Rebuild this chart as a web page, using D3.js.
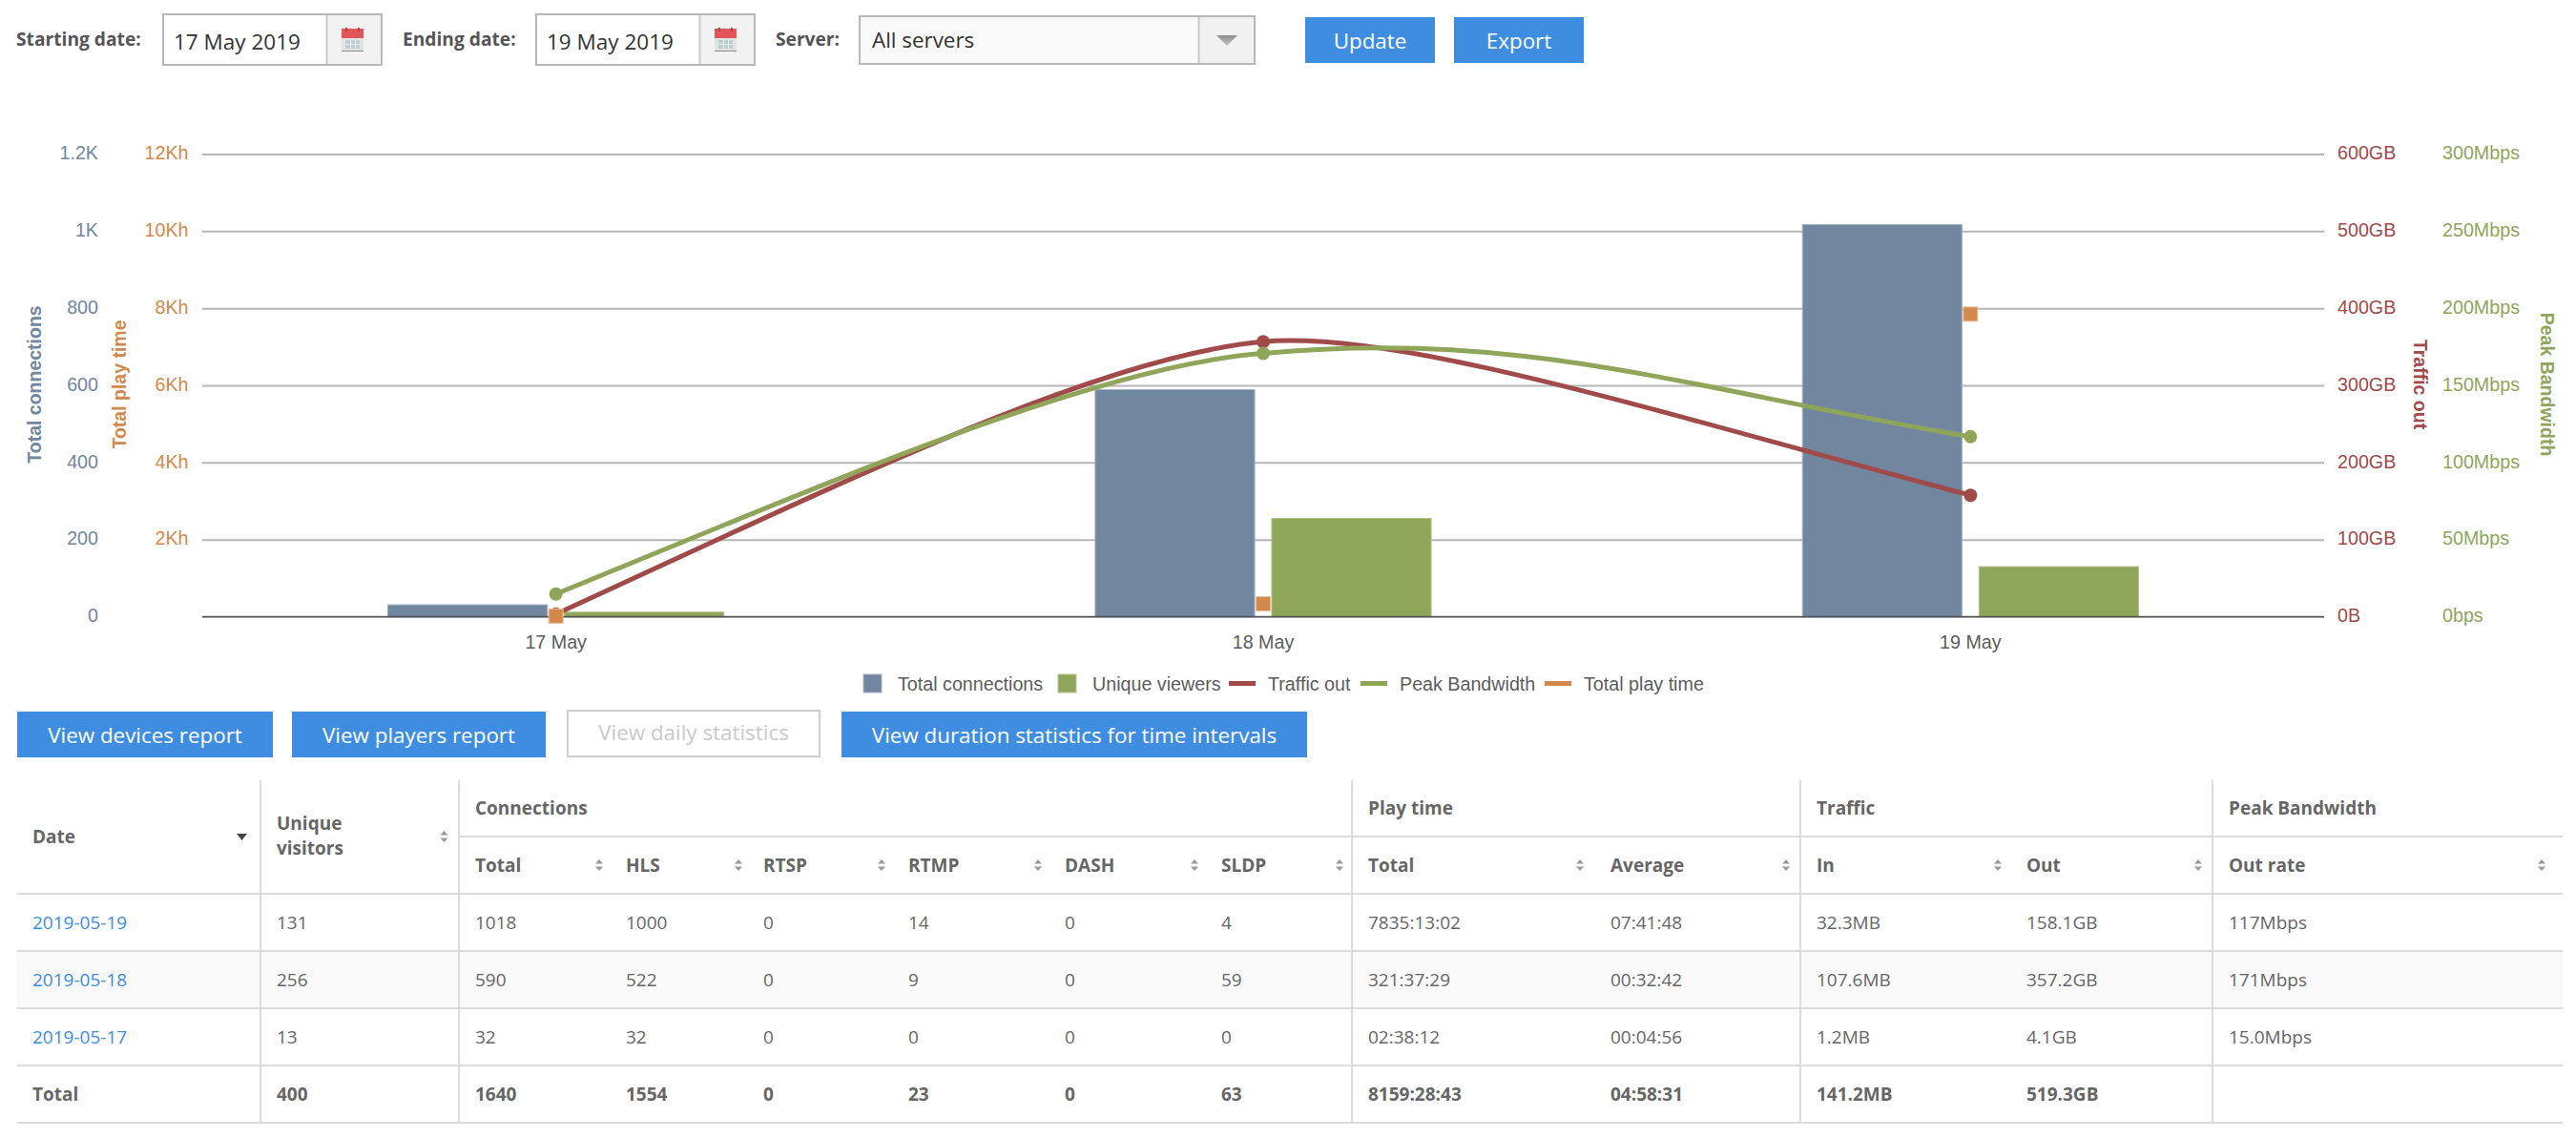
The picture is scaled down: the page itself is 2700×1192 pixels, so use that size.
<!DOCTYPE html>
<html>
<head>
<meta charset="utf-8">
<title>Statistics</title>
<script src="https://cdn.jsdelivr.net/npm/d3@7"></script>
<style>
html, body { margin: 0; padding: 0; background: #fff; }
svg { display: block; }
text { font-family: "Open Sans", sans-serif; }
.chart text { font-family: "Liberation Sans", Arial, sans-serif; }
</style>
</head>
<body>
<svg id="page" width="2700" height="1192"></svg>
<script>
// chart data
var days = ["17 May", "18 May", "19 May"];
var totalConnections = [32, 590, 1018];
var uniqueViewers = [13, 256, 131];
var trafficOut = [4.1, 357.2, 158.1];       // GB
var peakBandwidth = [15, 171, 117];         // Mbps
var totalPlayTime = [2.64, 321.6, 7835.2];  // hours

// axis ticks
var connTicks = [0, 200, 400, 600, 800, 1000, 1200];
var connLabels = ["0", "200", "400", "600", "800", "1K", "1.2K"];
var playTicks = [0, 2000, 4000, 6000, 8000, 10000, 12000];
var playLabels = ["", "2Kh", "4Kh", "6Kh", "8Kh", "10Kh", "12Kh"];
var trafficTicks = [0, 100, 200, 300, 400, 500, 600];
var trafficLabels = ["0B", "100GB", "200GB", "300GB", "400GB", "500GB", "600GB"];
var bandTicks = [0, 50, 100, 150, 200, 250, 300];
var bandLabels = ["0bps", "50Mbps", "100Mbps", "150Mbps", "200Mbps", "250Mbps", "300Mbps"];

// table data
var groupHeaders = ["Connections", "Play time", "Traffic", "Peak Bandwidth"];
var subHeaders = ["Total", "HLS", "RTSP", "RTMP", "DASH", "SLDP", "Total", "Average", "In", "Out", "Out rate"];
var row19 = ["2019-05-19", "131", "1018", "1000", "0", "14", "0", "4", "7835:13:02", "07:41:48", "32.3MB", "158.1GB", "117Mbps"];
var row18 = ["2019-05-18", "256", "590", "522", "0", "9", "0", "59", "321:37:29", "00:32:42", "107.6MB", "357.2GB", "171Mbps"];
var row17 = ["2019-05-17", "13", "32", "32", "0", "0", "0", "0", "02:38:12", "00:04:56", "1.2MB", "4.1GB", "15.0Mbps"];
var rowTotal = ["Total", "400", "1640", "1554", "0", "23", "0", "63", "8159:28:43", "04:58:31", "141.2MB", "519.3GB", ""];

var BLUE = "#71869f", GREEN = "#8fa65a", RED = "#a04b4a", ORANGE = "#d2894b";
var BTN = "#3e8de0", TXT = "#666", LINE = "#dcdcdc";

var svg = d3.select("#page");
svg.append("rect").attr("width", 2700).attr("height", 1192).attr("fill", "#fff");

var arrowGrad = svg.append("defs").append("linearGradient").attr("id", "arrowGrad")
    .attr("x1", 0).attr("y1", 0).attr("x2", 0).attr("y2", 1);
arrowGrad.append("stop").attr("offset", 0).attr("stop-color", "#8c8c8c");
arrowGrad.append("stop").attr("offset", 1).attr("stop-color", "#c4c4c4");

// ---------- top form ----------
var form = svg.append("g");

function label(x, y, s) {
    form.append("text").attr("x", x).attr("y", y).attr("dy", "0.35em")
        .attr("font-size", 19.2).attr("font-weight", 700).attr("fill", "#555").text(s);
}

function calendar(x, y) {
    var g = form.append("g").attr("transform", "translate(" + x + "," + y + ")");
    g.append("rect").attr("y", 1).attr("width", 23).attr("height", 24).attr("fill", "#e2e4e4");
    g.append("rect").attr("y", 1).attr("width", 23).attr("height", 10).attr("fill", "#e2555a");
    g.append("rect").attr("x", 4).attr("width", 2).attr("height", 4).attr("fill", "#b04a4a");
    g.append("rect").attr("x", 17).attr("width", 2).attr("height", 4).attr("fill", "#b04a4a");
    g.append("rect").attr("x", 4).attr("y", 13).attr("width", 15).attr("height", 9).attr("fill", "#bdd0d0");
    [9, 14].forEach(function(v) {
        g.append("rect").attr("x", v).attr("y", 13).attr("width", 1).attr("height", 9).attr("fill", "#e8eeee");
    });
    g.append("rect").attr("x", 4).attr("y", 17).attr("width", 15).attr("height", 1).attr("fill", "#e8eeee");
    g.append("rect").attr("y", 24).attr("width", 23).attr("height", 1).attr("fill", "#8a8a8a");
}

function dateInput(x, s) {
    form.append("rect").attr("x", x + 1).attr("y", 15).attr("width", 229).attr("height", 53)
        .attr("fill", "#fff").attr("stroke", "#b8b8b8").attr("stroke-width", 2);
    form.append("rect").attr("x", x + 173).attr("y", 16).attr("width", 56).attr("height", 51).attr("fill", "#f2f2f2");
    form.append("line").attr("x1", x + 172.5).attr("x2", x + 172.5).attr("y1", 16).attr("y2", 67)
        .attr("stroke", "#c9c9c9").attr("stroke-width", 2);
    form.append("text").attr("x", x + 12).attr("y", 44).attr("dy", "0.35em")
        .attr("font-size", 22.5).attr("fill", "#333").text(s);
    calendar(x + 188, 29);
}

function button(x, y, w, h, s) {
    form.append("rect").attr("x", x).attr("y", y).attr("width", w).attr("height", h).attr("fill", BTN);
    form.append("text").attr("x", x + w / 2).attr("y", y + h / 2 + 1).attr("dy", "0.35em")
        .attr("text-anchor", "middle").attr("font-size", 22.4).attr("fill", "#fff").text(s);
}

label(17, 41, "Starting date:");
dateInput(170, "17 May 2019");
label(422, 41, "Ending date:");
dateInput(561, "19 May 2019");
label(813, 41, "Server:");

form.append("rect").attr("x", 901).attr("y", 17).attr("width", 414).attr("height", 50)
    .attr("fill", "#f9f9f9").attr("stroke", "#b8b8b8").attr("stroke-width", 2);
form.append("rect").attr("x", 1257).attr("y", 18).attr("width", 57).attr("height", 48).attr("fill", "#f1f1f1");
form.append("line").attr("x1", 1256.5).attr("x2", 1256.5).attr("y1", 18).attr("y2", 66)
    .attr("stroke", "#c9c9c9").attr("stroke-width", 2);
form.append("text").attr("x", 914).attr("y", 42).attr("dy", "0.35em")
    .attr("font-size", 22.4).attr("fill", "#333").text("All servers");
form.append("path").attr("d", "M1275 37H1297L1286 48Z").attr("fill", "url(#arrowGrad)");

button(1368, 18, 136, 48, "Update");
button(1524, 18, 136, 48, "Export");

button(18, 746, 268, 48, "View devices report");
button(306, 746, 266, 48, "View players report");
form.append("rect").attr("x", 595).attr("y", 745).attr("width", 264).attr("height", 48)
    .attr("fill", "#fff").attr("stroke", "#cfcfcf").attr("stroke-width", 2);
form.append("text").attr("x", 727).attr("y", 768).attr("dy", "0.35em").attr("text-anchor", "middle")
    .attr("font-size", 22.4).attr("fill", "#c9c9c9").text("View daily statistics");
button(882, 746, 488, 48, "View duration statistics for time intervals");

// ---------- chart ----------
var chart = svg.append("g").attr("class", "chart");
var plotLeft = 212, plotRight = 2436, plotTop = 162, plotBottom = 647;

var x = d3.scaleBand().domain(days).range([plotLeft, plotRight]).paddingInner(0.525).paddingOuter(0.2625);
var barX = d3.scaleBand().domain(["conn", "uniq"]).range([0, x.bandwidth()]).paddingInner(0.097);
var yConn = d3.scaleLinear().domain([0, 1200]).range([plotBottom, plotTop]);
var yPlay = d3.scaleLinear().domain([0, 12000]).range([plotBottom, plotTop]);
var yTraffic = d3.scaleLinear().domain([0, 600]).range([plotBottom, plotTop]);
var yBand = d3.scaleLinear().domain([0, 300]).range([plotBottom, plotTop]);

function cx(day) { return x(day) + x.bandwidth() / 2; }

// grid
chart.append("g").selectAll("line").data(connTicks).join("line")
    .attr("x1", plotLeft).attr("x2", plotRight)
    .attr("y1", function(d) { return yConn(d); }).attr("y2", function(d) { return yConn(d); })
    .attr("stroke", "#b6b6b6").attr("stroke-width", 2);

// axes
function yAxis(axisGen, xPos, ticks, labels, color, anchor) {
    var g = chart.append("g").attr("transform", "translate(" + xPos + ",0)")
        .call(axisGen.tickValues(ticks).tickSize(0).tickPadding(0)
            .tickFormat(function(d, i) { return labels[i]; }));
    g.select(".domain").remove();
    g.selectAll("text").attr("fill", color).attr("font-size", 19.7)
        .attr("text-anchor", anchor).attr("y", -1.5)
        .style("font-family", "'Liberation Sans', Arial, sans-serif");
}

yAxis(d3.axisLeft(yConn), 103, connTicks, connLabels, BLUE, "end");
yAxis(d3.axisLeft(yPlay), 197.5, playTicks, playLabels, ORANGE, "end");
yAxis(d3.axisRight(yTraffic), 2450, trafficTicks, trafficLabels, RED, "start");
yAxis(d3.axisRight(yBand), 2560, bandTicks, bandLabels, GREEN, "start");

function axisTitle(xPos, angle, s, color) {
    chart.append("text").attr("transform", "translate(" + xPos + ",403) rotate(" + angle + ")")
        .attr("text-anchor", "middle").attr("dy", "0.35em").attr("font-size", 19.5).attr("font-weight", 700)
        .attr("fill", color).text(s);
}
axisTitle(36, -90, "Total connections", BLUE);
axisTitle(125, -90, "Total play time", ORANGE);
axisTitle(2537, 90, "Traffic out", RED);
axisTitle(2670, 90, "Peak Bandwidth", GREEN);

// x labels
var xAxis = chart.append("g").attr("transform", "translate(0," + plotBottom + ")")
    .call(d3.axisBottom(x).tickSize(0).tickPadding(0));
xAxis.select(".domain").remove();
xAxis.selectAll("text").attr("y", 19).attr("font-size", 19.7).attr("fill", "#5c5c5c")
    .style("font-family", "'Liberation Sans', Arial, sans-serif");

// bars
function bars(values, key, color, edge, scale) {
    chart.append("g").selectAll("rect").data(values).join("rect")
        .attr("x", function(d, i) { return x(days[i]) + barX(key); })
        .attr("width", barX.bandwidth())
        .attr("y", function(d) { return scale(d); })
        .attr("height", function(d) { return plotBottom - scale(d); })
        .attr("fill", color).attr("stroke", edge).attr("stroke-width", 1);
}
bars(totalConnections, "conn", BLUE, "#9dadc0", yConn);
bars(uniqueViewers, "uniq", GREEN, "#b0c088", yConn);

chart.append("line").attr("x1", plotLeft).attr("x2", plotRight)
    .attr("y1", plotBottom - 0.5).attr("y2", plotBottom - 0.5)
    .attr("stroke", "#555").attr("stroke-width", 1.5);

// Spline through three points. Handle lengths are fractions of the x step,
// slopes are multiples of the chord slope; tuned by eye against the picture.
function spline(pts, shape) {
    var h = pts[1][0] - pts[0][0];
    var s0 = (pts[1][1] - pts[0][1]) / h;
    var s1 = (pts[2][1] - pts[1][1]) / h;
    var chord = (pts[2][1] - pts[0][1]) / (2 * h);
    var aEnd = 0.4 * h, aL = shape.midLeft * h, aR = shape.midRight * h;
    var p = d3.path();
    p.moveTo(pts[0][0], pts[0][1]);
    p.bezierCurveTo(pts[0][0] + aEnd, pts[0][1] + shape.startK * s0 * aEnd,
        pts[1][0] - aL, pts[1][1] - shape.midKLeft * chord * aL, pts[1][0], pts[1][1]);
    p.bezierCurveTo(pts[1][0] + aR, pts[1][1] + shape.midKRight * chord * aR,
        pts[2][0] - aEnd, pts[2][1] - shape.endK * s1 * aEnd, pts[2][0], pts[2][1]);
    return p.toString();
}

function series(values, scale, color, shape) {
    var pts = values.map(function(v, i) { return [cx(days[i]), scale(v)]; });
    chart.append("path").attr("d", spline(pts, shape)).attr("fill", "none")
        .attr("stroke", color).attr("stroke-width", 5);
    chart.append("g").selectAll("circle").data(pts).join("circle")
        .attr("cx", function(d) { return d[0]; }).attr("cy", function(d) { return d[1]; })
        .attr("r", 7).attr("fill", color);
}
series(trafficOut, yTraffic, RED, { startK: 1.19, midKLeft: 1.05, midKRight: 1.05, endK: 1.2, midLeft: 0.233, midRight: 0.2 });
series(peakBandwidth, yBand, GREEN, { startK: 1.2, midKLeft: 0.63, midKRight: 0.85, endK: 1.42, midLeft: 0.233, midRight: 0.37 });

chart.append("g").selectAll("rect").data(totalPlayTime).join("rect")
    .attr("x", function(d, i) { return cx(days[i]) - 7.5; })
    .attr("y", function(d) { return yPlay(d) - 8.5; })
    .attr("width", 15).attr("height", 15)
    .attr("fill", ORANGE).attr("stroke", "#e8c4a5").attr("stroke-width", 1);

// legend
var legendNames = ["Total connections", "Unique viewers", "Traffic out", "Peak Bandwidth", "Total play time"];
var legendColors = [BLUE, GREEN, RED, GREEN, ORANGE];
var legendEdges = ["#a9b6c5", "#b8c695", null, null, null];
var legendX = [905, 1109, 1288, 1426, 1619];
var legendTextX = [941, 1145, 1329, 1467, 1660];
var legend = chart.append("g");
legendNames.forEach(function(name, i) {
    if (legendEdges[i]) {
        legend.append("rect").attr("x", legendX[i]).attr("y", 707).attr("width", 19).attr("height", 19)
            .attr("fill", legendColors[i]).attr("stroke", legendEdges[i]).attr("stroke-width", 1);
    } else {
        legend.append("rect").attr("x", legendX[i]).attr("y", 714).attr("width", 28).attr("height", 5).attr("fill", legendColors[i]);
    }
    legend.append("text").attr("x", legendTextX[i]).attr("y", 717).attr("dy", "0.35em")
        .attr("font-size", 19.7).attr("fill", "#5c5c5c").text(name);
});

// ---------- table ----------
var table = svg.append("g");
var tableLeft = 18, tableRight = 2686;
var vLines = [273, 481, 1417, 1887, 2319];
var hLines = [937, 997, 1057, 1117, 1177];
var columnX = [34, 290, 498, 656, 800, 952, 1116, 1280, 1434, 1688, 1904, 2124, 2336];
var rowY = [967, 1027, 1087, 1147];
var rows = [row19, row18, row17, rowTotal];
var groupX = [498, 1434, 1904, 2336];
var subX = columnX.slice(2);
var sortX = [628, 774, 924, 1088, 1252, 1404, 1656, 1872, 2094, 2304, 2664];

table.append("rect").attr("x", tableLeft).attr("y", 998).attr("width", tableRight - tableLeft).attr("height", 58).attr("fill", "#fafafa");

table.selectAll("line.h").data(hLines).join("line").attr("class", "h")
    .attr("x1", tableLeft).attr("x2", tableRight)
    .attr("y1", function(d) { return d; }).attr("y2", function(d) { return d; })
    .attr("stroke", LINE).attr("stroke-width", 2);
table.append("line").attr("x1", 481).attr("x2", tableRight).attr("y1", 877).attr("y2", 877)
    .attr("stroke", LINE).attr("stroke-width", 2);
table.selectAll("line.v").data(vLines).join("line").attr("class", "v")
    .attr("x1", function(d) { return d; }).attr("x2", function(d) { return d; })
    .attr("y1", 818).attr("y2", 1177)
    .attr("stroke", LINE).attr("stroke-width", 2);

function cell(xPos, y, s, bold, color) {
    table.append("text").attr("x", xPos).attr("y", y).attr("dy", "0.35em")
        .attr("font-size", 19).attr("font-weight", bold ? 700 : 400)
        .attr("fill", color || TXT).text(s);
}

function sortIcon(xPos, y) {
    table.append("path").attr("d", "M" + (xPos - 4) + " " + (y - 1.5) + "h8l-4 -4.5Z").attr("fill", "#999");
    table.append("path").attr("d", "M" + (xPos - 4) + " " + (y + 1.5) + "h8l-4 4.5Z").attr("fill", "#999");
}

cell(34, 877, "Date", true);
table.append("path").attr("d", "M248 874h11l-5.5 7Z").attr("fill", "#444");
cell(290, 863, "Unique", true);
cell(290, 889, "visitors", true);
sortIcon(465.5, 877);

groupHeaders.forEach(function(s, i) { cell(groupX[i], 847, s, true); });
subHeaders.forEach(function(s, i) {
    cell(subX[i], 907, s, true);
    sortIcon(sortX[i], 907);
});

rows.forEach(function(row, r) {
    var isTotal = row === rowTotal;
    row.forEach(function(s, c) {
        var color = (c === 0 && !isTotal) ? BTN : TXT;
        cell(columnX[c], rowY[r], s, isTotal, color);
    });
});
</script>
</body>
</html>
